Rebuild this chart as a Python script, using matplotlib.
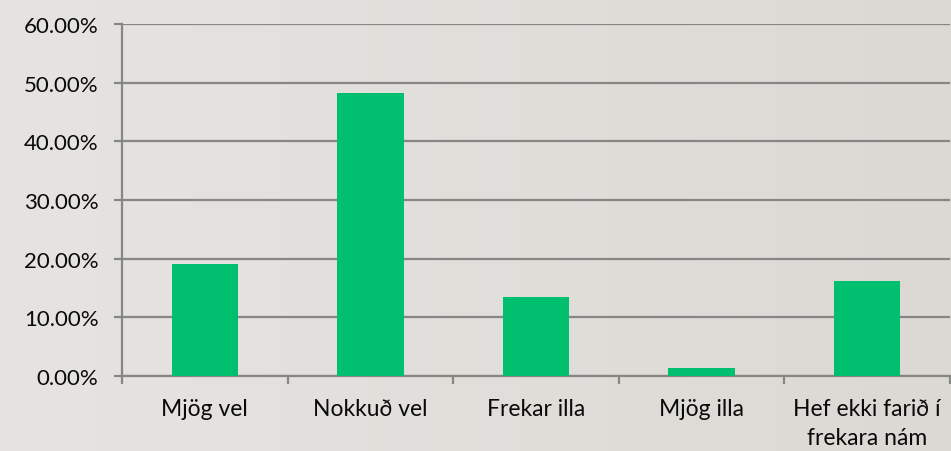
import matplotlib
matplotlib.use("Agg")
import matplotlib.pyplot as plt
import numpy as np
from matplotlib.ticker import FuncFormatter, FixedLocator
from matplotlib.colors import LinearSegmentedColormap

categories = ["Mjög vel", "Nokkuð vel", "Frekar illa", "Mjög illa", "Hef ekki farið í\nfrekara nám"]
values = [19.1, 48.2, 13.4, 1.4, 16.2]
yticks = [0, 10, 20, 30, 40, 50, 60]

plt.rcParams['font.family'] = ['Lato', 'DejaVu Sans']

fig = plt.figure(figsize=(9.51, 4.52), dpi=100)
# subtle gradient background
bg = fig.add_axes([0, 0, 1, 1], zorder=-10)
g = np.linspace(0, 1, 256)
grad = np.outer(np.ones(64), g)
cmap = LinearSegmentedColormap.from_list("bg", ["#e6e4e1", "#dcd9d4"])
bg.imshow(grad, aspect='auto', cmap=cmap, extent=[0, 1, 0, 1])
bg.axis('off')

ax = fig.add_axes([122/951, 1-377/452, (950-122)/951, (377-25)/452])
ax.patch.set_alpha(0)
x = np.arange(len(categories))
ax.bar(x, values, width=0.4, color="#00bf6f", zorder=3)
ax.set_xlim(-0.5, len(categories)-0.5)
ax.set_ylim(0, 60)
ax.set_yticks(yticks)
ax.yaxis.set_major_formatter(FuncFormatter(lambda v, p: f"{v:.2f}%"))
ax.grid(axis='y', color="#868686", linewidth=1.6, zorder=0)
ax.set_axisbelow(True)

ax.set_xticks(x)
ax.set_xticklabels(categories, fontsize=16.5, color="#0a0a0a", linespacing=1.45)
ax.xaxis.set_minor_locator(FixedLocator(np.arange(-0.5, len(categories), 1.0)))
ax.tick_params(axis='x', which='major', length=0, pad=16)
ax.tick_params(axis='x', which='minor', length=6, width=1.6, color="#868686")
ax.tick_params(axis='y', length=6, width=1.6, color="#868686", pad=11, labelsize=16, labelcolor="#0a0a0a")

for s in ['top', 'right']:
    ax.spines[s].set_visible(False)
for s in ['left', 'bottom']:
    ax.spines[s].set_color("#868686")
    ax.spines[s].set_linewidth(1.6)

fig.savefig("out.png", dpi=100)
